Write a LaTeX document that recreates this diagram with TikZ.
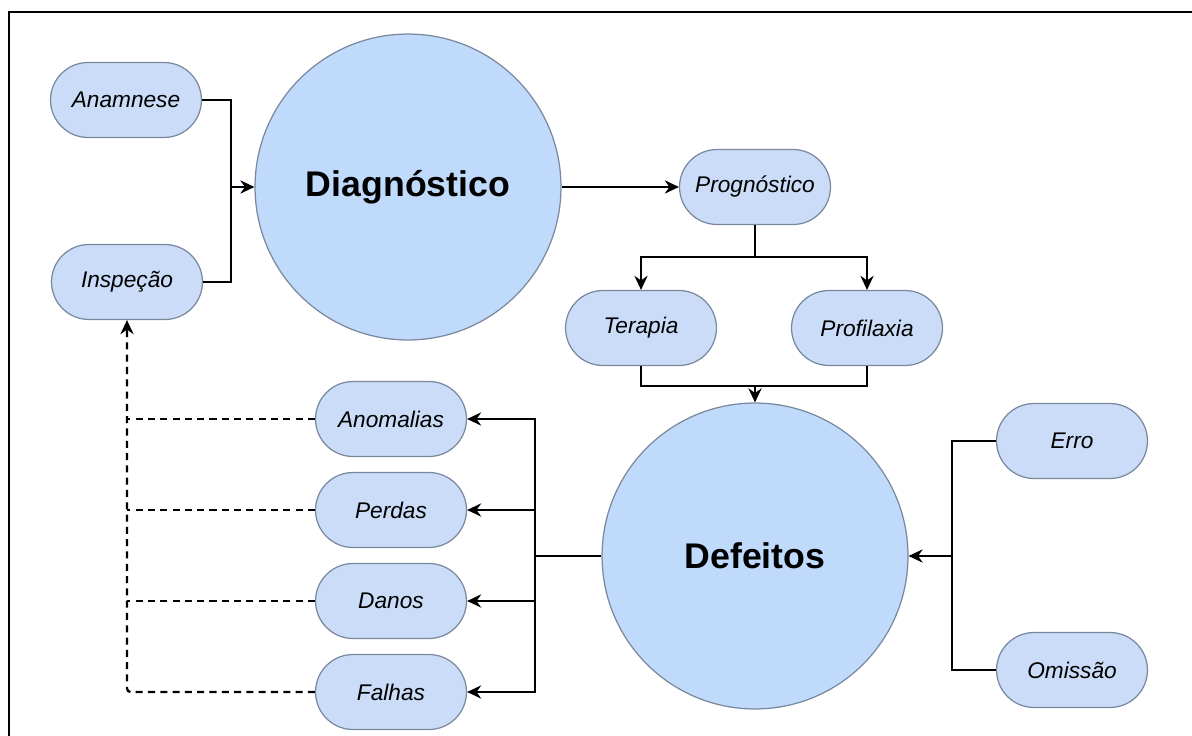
\documentclass[tikz,border=0pt]{standalone}
\usepackage{fontspec}
\setmainfont{Liberation Sans}
\usetikzlibrary{arrows.meta}
\definecolor{pillfill}{HTML}{CADCF7}
\definecolor{circfill}{HTML}{BFDAFB}
\definecolor{edgegray}{HTML}{7A889E}
\tikzset{
  pill/.style={rectangle, rounded corners=0.75cm, draw=edgegray, line width=0.7pt, fill=pillfill,
    minimum width=3.02cm, minimum height=1.5cm, inner sep=0pt,
    font=\fontsize{12.9}{15}\selectfont\itshape},
  bigcirc/.style={circle, draw=edgegray, line width=0.7pt, fill=circfill, minimum size=6.12cm, inner sep=0pt,
    font=\fontsize{20.3}{24}\selectfont\bfseries},
  conn/.style={draw=black, line width=1.3pt},
  arr/.style={conn, -{Stealth[length=8pt,width=7.5pt]}},
  dsh/.style={draw=black, line width=1.3pt, dash pattern=on 4pt off 3pt, rounded corners=2pt},
  darr/.style={dsh, -{Stealth[length=8pt,width=7.5pt]}}
}
\begin{document}
\begin{tikzpicture}[x=0.02cm, y=-0.02cm]
\useasboundingbox (0,0) rectangle (1192,736);
\draw[line width=1.2pt] (9,736) -- (9,12) -- (1192,12);

\node[pill] (anam) at (126,100) {Anamnese};
\node[pill] (insp) at (127,282) {Inspeção};
\node[bigcirc] (diag) at (408,187) {Diagnóstico};
\node[pill] (prog) at (755,187) {Prognóstico};
\node[pill] (ter) at (641,328) {Terapia};
\node[pill] (prof) at (867,328) {Profilaxia};
\node[bigcirc] (def) at (755,556) {Defeitos};
\node[pill] (anom) at (391,419) {Anomalias};
\node[pill] (perd) at (391,510) {Perdas};
\node[pill] (dano) at (391,601) {Danos};
\node[pill] (falh) at (391,692) {Falhas};
\node[pill] (erro) at (1072,441) {Erro};
\node[pill] (omis) at (1072,670) {Omissão};

\coordinate (bA) at (231,187);
\draw[conn] (anam.east) -| (bA) |- (insp.east);
\draw[arr] (bA) -- (diag.west);

\draw[arr] (diag.east) -- (prog.west);

\coordinate (bP) at (755,257);
\draw[conn] (prog.south) -- (bP);
\draw[arr] (bP) -| (ter.north);
\draw[arr] (bP) -| (prof.north);

\coordinate (bT) at (755,386);
\draw[conn] (ter.south) |- (bT) -| (prof.south);
\draw[arr] (bT) -- (def.north);

\coordinate (bD) at (535,556);
\draw[conn] (def.west) -- (bD);
\draw[arr] (bD) |- (anom.east);
\draw[arr] (bD) |- (perd.east);
\draw[arr] (bD) |- (dano.east);
\draw[arr] (bD) |- (falh.east);

\coordinate (bE) at (952,556);
\draw[conn] (erro.west) -| (bE) |- (omis.west);
\draw[arr] (bE) -- (def.east);

\draw[darr] (falh.west) -| (insp.south);
\draw[dsh] (anom.west) -- (anom.west -| insp.south);
\draw[dsh] (perd.west) -- (perd.west -| insp.south);
\draw[dsh] (dano.west) -- (dano.west -| insp.south);
\end{tikzpicture}
\end{document}
